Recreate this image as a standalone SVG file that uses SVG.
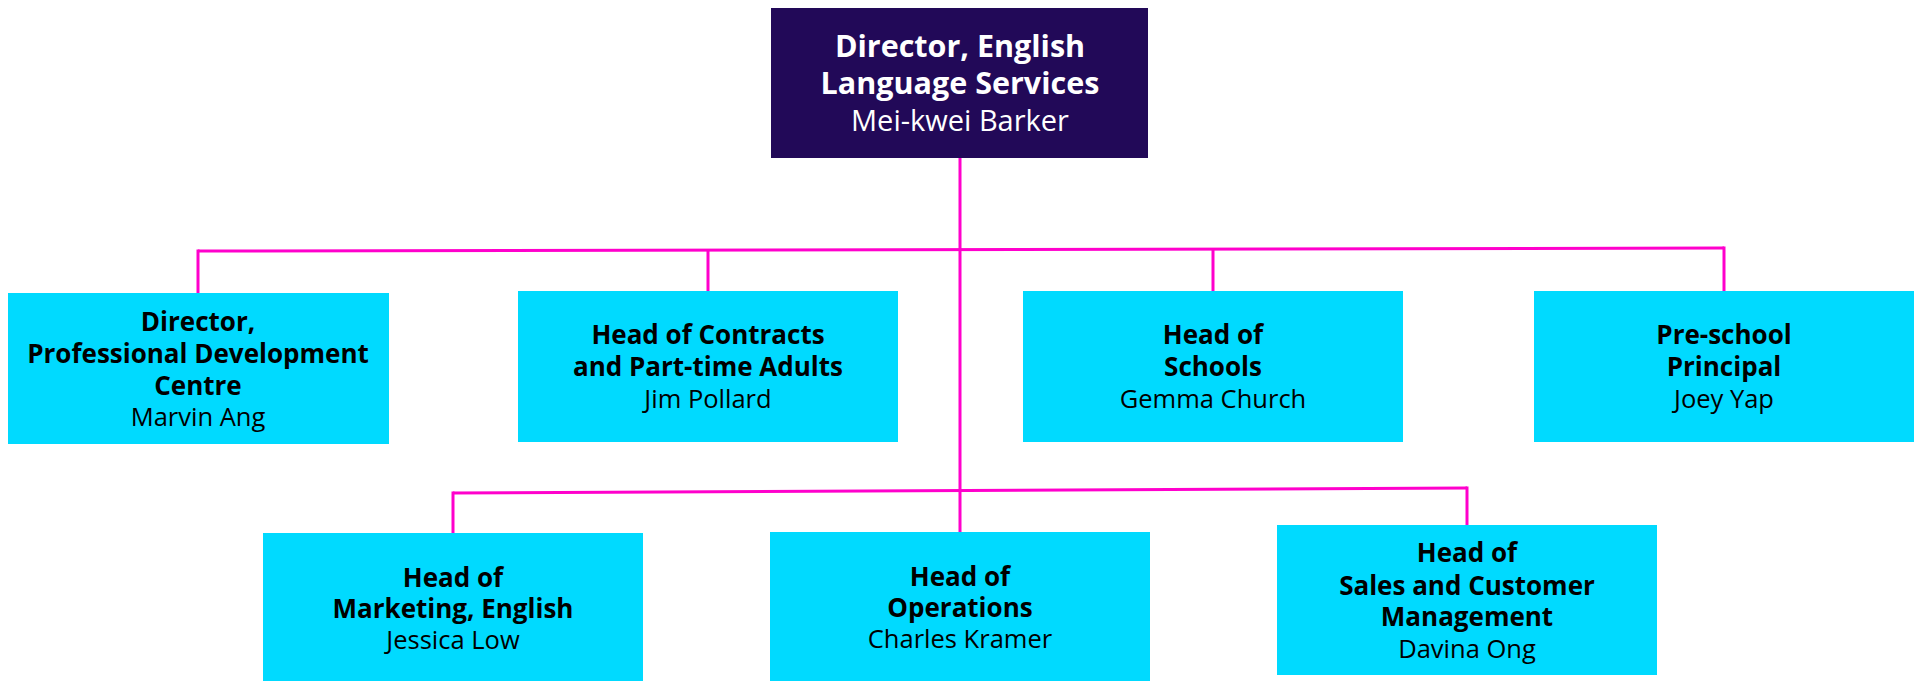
<svg xmlns="http://www.w3.org/2000/svg" width="1919" height="681" viewBox="0 0 1919 681">
<style>
.box{fill:#00DAFF;}
.top{fill:#220958;}
.t{font-family:"Open Sans","DejaVu Sans",sans-serif;text-anchor:middle;fill:#000;}
.b{font-weight:bold;font-size:26px;}
.r{font-size:25.5px;}
.tw{fill:#fff;}
.tb{font-weight:bold;font-size:30.5px;}
.tr{font-size:29px;}
.ln{stroke:#FF00CC;stroke-width:3;fill:none;}
</style>
<rect width="1919" height="681" fill="#fff"/>
<g id="connectors">
<line class="ln" x1="960" y1="158" x2="960" y2="532"/>
<line class="ln" x1="198" y1="251" x2="1724" y2="248"/>
<line class="ln" x1="198" y1="249.5" x2="198" y2="293"/>
<line class="ln" x1="708" y1="250" x2="708" y2="291"/>
<line class="ln" x1="1213" y1="249" x2="1213" y2="291"/>
<line class="ln" x1="1724" y1="246.5" x2="1724" y2="291"/>
<line class="ln" x1="453" y1="493" x2="1467" y2="488"/>
<line class="ln" x1="453" y1="491.5" x2="453" y2="533"/>
<line class="ln" x1="1467" y1="486.5" x2="1467" y2="525"/>
</g>
<g id="n-director">
<rect class="top" x="771" y="8" width="377" height="150"/>
<text class="t tw tb" x="960" y="57">Director, English</text>
<text class="t tw tb" x="960" y="94">Language Services</text>
<text class="t tw tr" x="960" y="131">Mei-kwei Barker</text>
</g>
<g id="n-pdc">
<rect class="box" x="8" y="293" width="381" height="151"/>
<text class="t b" x="198" y="331">Director,</text>
<text class="t b" x="198" y="363">Professional Development</text>
<text class="t b" x="198" y="395">Centre</text>
<text class="t r" x="198" y="426">Marvin Ang</text>
</g>
<g id="n-contracts">
<rect class="box" x="518" y="291" width="380" height="151"/>
<text class="t b" x="708" y="344">Head of Contracts</text>
<text class="t b" x="708" y="376">and Part-time Adults</text>
<text class="t r" x="708" y="408">Jim Pollard</text>
</g>
<g id="n-schools">
<rect class="box" x="1023" y="291" width="380" height="151"/>
<text class="t b" x="1213" y="344">Head of</text>
<text class="t b" x="1213" y="376">Schools</text>
<text class="t r" x="1213" y="408">Gemma Church</text>
</g>
<g id="n-preschool">
<rect class="box" x="1534" y="291" width="380" height="151"/>
<text class="t b" x="1724" y="344">Pre-school</text>
<text class="t b" x="1724" y="376">Principal</text>
<text class="t r" x="1724" y="408">Joey Yap</text>
</g>
<g id="n-marketing">
<rect class="box" x="263" y="533" width="380" height="148"/>
<text class="t b" x="453" y="587">Head of</text>
<text class="t b" x="453" y="618">Marketing, English</text>
<text class="t r" x="453" y="649">Jessica Low</text>
</g>
<g id="n-operations">
<rect class="box" x="770" y="532" width="380" height="149"/>
<text class="t b" x="960" y="586">Head of</text>
<text class="t b" x="960" y="617">Operations</text>
<text class="t r" x="960" y="648">Charles Kramer</text>
</g>
<g id="n-sales">
<rect class="box" x="1277" y="525" width="380" height="150"/>
<text class="t b" x="1467" y="562">Head of</text>
<text class="t b" x="1467" y="595">Sales and Customer</text>
<text class="t b" x="1467" y="626">Management</text>
<text class="t r" x="1467" y="658">Davina Ong</text>
</g>
</svg>
